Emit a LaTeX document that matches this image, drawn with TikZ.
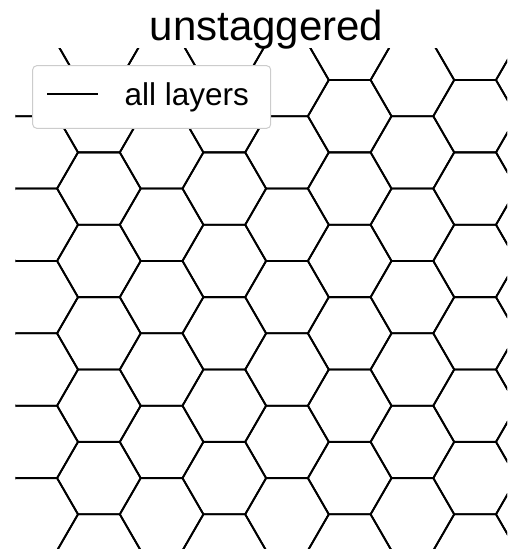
\documentclass[tikz,border=0pt]{standalone}
\usepackage{fontspec}
\setmainfont{Liberation Sans}
\tikzset{
  hexedge/.style={line width=1.8pt, line join=miter},
  legendbox/.style={draw=black!20, line width=1pt, fill=white, rounded corners=4pt,
    minimum width=238pt, minimum height=62.6pt, inner sep=0pt},
}
\newcommand{\hexside}{41.8}
\begin{document}
\begin{tikzpicture}[x=1pt,y=-1pt]
\useasboundingbox (0,0) rectangle (507,549);
% honeycomb, one layer only
\begin{scope}
\clip (15.6,48.3) rectangle (507,549);
\foreach \m in {-1,...,3}
  \foreach \n in {-1,...,7} {
    \foreach \cx/\cy in {98.9/116.19, 161.6/80} {
      \draw[hexedge, shift={(\cx+125.4*\m,\cy+72.38*\n)}]
        (0:\hexside) -- (60:\hexside) -- (120:\hexside) -- (180:\hexside)
        -- (240:\hexside) -- (300:\hexside) -- cycle;
    }
  }
\end{scope}
\node[anchor=base] (title) at (266.5,40.7) {\fontsize{42}{46}\selectfont unstaggered};
\node[legendbox] (legend) at (151.7,97) {};
\coordinate (ls) at (47.3,94);
\coordinate (le) at (98.3,94);
\draw[hexedge] (ls) -- (le);
\node[anchor=base west, inner sep=0pt] (lbl) at (124.5,105.5) {\fontsize{31.5}{35}\selectfont all layers};
\end{tikzpicture}
\end{document}
